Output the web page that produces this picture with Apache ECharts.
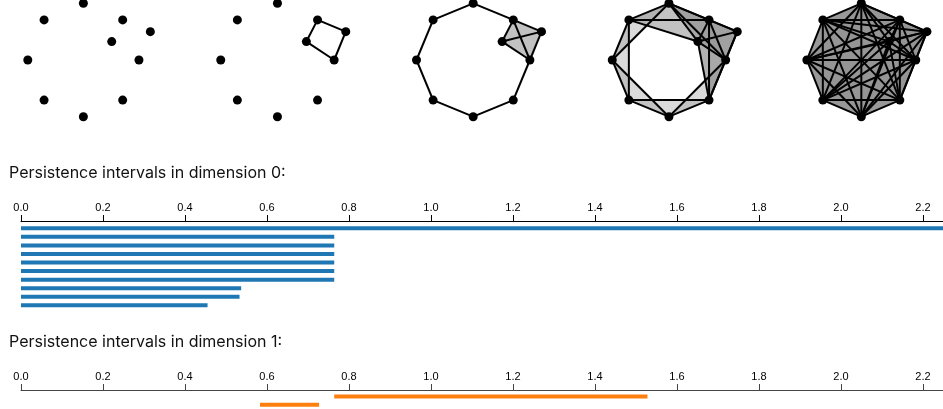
<!DOCTYPE html>
<html>
<head>
<meta charset="utf-8">
<script src="https://cdn.jsdelivr.net/npm/echarts@6/dist/echarts.min.js"></script>
<style>
html,body{margin:0;padding:0;background:#fff;}
#chart{width:943px;height:409px;}
</style>
</head>
<body>
<div id="chart"></div>
<script>
// ---- Data ----
// Point cloud (octagon of radius 1 plus two extra points)
const pointsX = [1, 0.707, 0, -0.707, -1, -0.707, 0, 0.707, 1.205, 0.51];
const pointsY = [0, 0.707, 1, 0.707, 0, -0.707, -1, -0.707, 0.5, 0.325];
// Filtration values (distance thresholds) for the five snapshots
const panelThresholds = [0.3, 0.65, 0.8, 1.416, 2.3];

// Persistence intervals, dimension 0 (birth, death)
const dim0Birth = [0, 0, 0, 0, 0, 0, 0, 0, 0, 0];
const dim0Death = [Infinity, 0.764, 0.764, 0.764, 0.764, 0.764, 0.764, 0.537, 0.533, 0.455];
// Persistence intervals, dimension 1
const dim1Birth = [0.764, 0.583];
const dim1Death = [1.528, 0.727];

// Axis tick labels
const tickValues = [0, 0.2, 0.4, 0.6, 0.8, 1.0, 1.2, 1.4, 1.6, 1.8, 2.0, 2.2];
const titles = ['Persistence intervals in dimension 0:', 'Persistence intervals in dimension 1:'];

// ---- Layout / style ----
const FONT = 'Liberation Sans, Arial, Helvetica, sans-serif';
const TITLE_FONT = 'Inter, Liberation Sans, Arial, sans-serif';
const panelScale = 56.7;         // px per unit
const panelCenterX0 = 81.7, panelStep = 195.75, panelCenterY = 60;
const xHalf = 1.5, yHalf = 1.05;
const barScale = 410;            // px per unit on barcode axis
const barLeft = 21;
const rowPx = 8.556;
const xMax = (943 - barLeft) / barScale;

function dist(i, j) {
  const dx = pointsX[i] - pointsX[j], dy = pointsY[i] - pointsY[j];
  return Math.sqrt(dx * dx + dy * dy);
}

const grids = [], xAxes = [], yAxes = [], series = [];
const n = pointsX.length;

panelThresholds.forEach((thr, k) => {
  const cx = panelCenterX0 + k * panelStep;
  grids.push({left: cx - xHalf * panelScale, top: panelCenterY - yHalf * panelScale,
              width: 2 * xHalf * panelScale, height: 2 * yHalf * panelScale, containLabel: false});
  xAxes.push({gridIndex: k, type: 'value', min: -xHalf, max: xHalf, show: false});
  yAxes.push({gridIndex: k, type: 'value', min: -yHalf, max: yHalf, show: false});

  const edges = [], tris = [];
  for (let i = 0; i < n; i++) for (let j = i + 1; j < n; j++) {
    if (dist(i, j) <= thr) edges.push([pointsX[i], pointsY[i], pointsX[j], pointsY[j]]);
    for (let l = j + 1; l < n; l++) {
      if (dist(i, j) <= thr && dist(i, l) <= thr && dist(j, l) <= thr)
        tris.push([pointsX[i], pointsY[i], pointsX[j], pointsY[j], pointsX[l], pointsY[l]]);
    }
  }
  series.push({
    type: 'custom', xAxisIndex: k, yAxisIndex: k, clip: false, silent: true,
    data: tris, encode: {x: [0, 2, 4], y: [1, 3, 5]},
    renderItem: (params, api) => {
      const pts = [0, 1, 2].map(q => api.coord([api.value(2 * q), api.value(2 * q + 1)]));
      return {type: 'polygon', shape: {points: pts}, style: {fill: 'rgba(150,150,150,0.35)', stroke: null}};
    }
  });
  series.push({
    type: 'custom', xAxisIndex: k, yAxisIndex: k, clip: false, silent: true,
    data: edges, encode: {x: [0, 2], y: [1, 3]},
    renderItem: (params, api) => {
      const p1 = api.coord([api.value(0), api.value(1)]);
      const p2 = api.coord([api.value(2), api.value(3)]);
      return {type: 'line', shape: {x1: p1[0], y1: p1[1], x2: p2[0], y2: p2[1]},
              style: {stroke: '#000', lineWidth: 2}};
    }
  });
  series.push({
    type: 'scatter', xAxisIndex: k, yAxisIndex: k, clip: false, silent: true,
    symbolSize: 9, itemStyle: {color: '#000', opacity: 1},
    data: pointsX.map((x, i) => [x, pointsY[i]])
  });
});

// Barcode grids
const barcodes = [
  {births: dim0Birth, deaths: dim0Death, color: '#1f77b4', axisY: 221, yMin: -0.853, yMax: 9.6, axisColor: '#000'},
  {births: dim1Birth, deaths: dim1Death, color: '#ff7f0e', axisY: 390, yMin: -0.78, yMax: 1.5, axisColor: '#444'}
];
barcodes.forEach((b, m) => {
  const gi = panelThresholds.length + m;
  grids.push({left: barLeft, right: 0, top: b.axisY, height: (b.yMax - b.yMin) * rowPx});
  xAxes.push({
    gridIndex: gi, type: 'value', position: 'top', min: 0, max: xMax,
    axisLine: {show: true, onZero: false, lineStyle: {color: b.axisColor, width: 1}},
    axisTick: {show: true, length: 6, customValues: tickValues, lineStyle: {color: b.axisColor}},
    axisLabel: {show: true, customValues: tickValues, formatter: v => Number(v).toFixed(1),
                fontSize: 11, color: '#000', margin: 8, fontFamily: FONT},
    splitLine: {show: false}
  });
  yAxes.push({gridIndex: gi, type: 'value', inverse: true, min: b.yMin, max: b.yMax, show: false});
  series.push({
    type: 'custom', xAxisIndex: gi, yAxisIndex: gi, clip: false, silent: true,
    data: b.births.map((s, i) => [s, isFinite(b.deaths[i]) ? b.deaths[i] : xMax, i]),
    encode: {x: [0, 1], y: 2},
    renderItem: (params, api) => {
      const p1 = api.coord([api.value(0), api.value(2)]);
      const p2 = api.coord([api.value(1), api.value(2)]);
      return {type: 'rect', shape: {x: p1[0], y: p1[1] - 2, width: p2[0] - p1[0], height: 4},
              style: {fill: b.color}};
    }
  });
});

const chart = echarts.init(document.getElementById('chart'), null, {renderer: 'canvas'});
chart.setOption({
  backgroundColor: '#fff',
  animation: false,
  title: [
    {text: titles[0], left: 9, top: 165, padding: 0,
     textStyle: {fontSize: 16, fontWeight: 'normal', color: '#111', fontFamily: TITLE_FONT}},
    {text: titles[1], left: 9, top: 334, padding: 0,
     textStyle: {fontSize: 16, fontWeight: 'normal', color: '#111', fontFamily: TITLE_FONT}}
  ],
  grid: grids,
  xAxis: xAxes,
  yAxis: yAxes,
  series: series
});
</script>
</body>
</html>
